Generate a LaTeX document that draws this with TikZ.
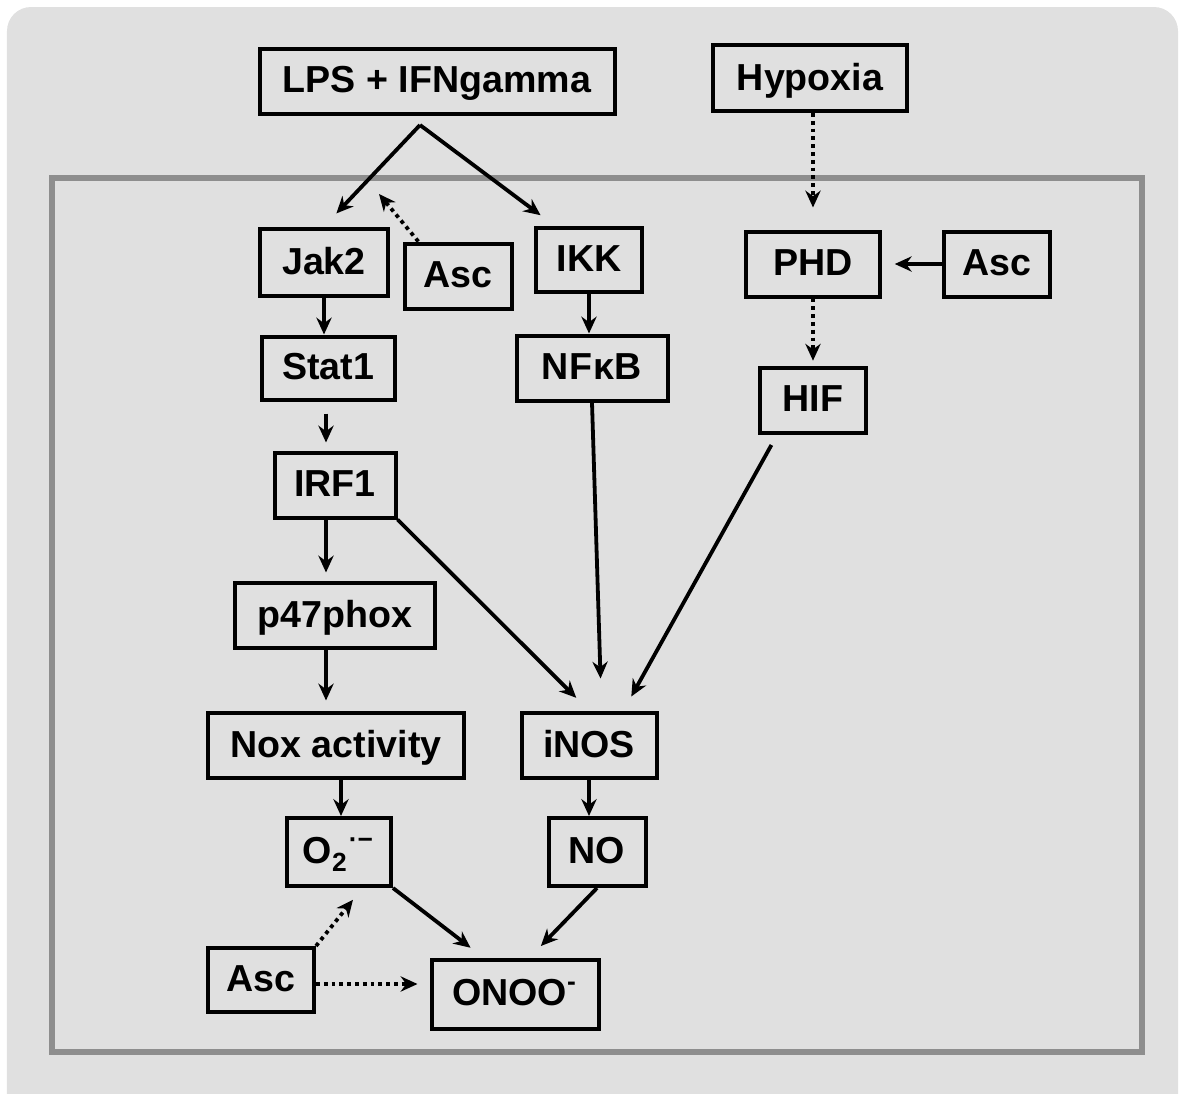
\documentclass[tikz,border=0pt]{standalone}
\usepackage{fontspec}
\setmainfont{Liberation Sans}
\usetikzlibrary{positioning,calc,arrows.meta}
\definecolor{bggray}{HTML}{E0E0E0}
\definecolor{cellgray}{HTML}{8E8E8E}
\tikzset{
	%Style of nodes
	box/.style = {rectangle, draw=black, line width=1pt,
                           minimum height=16.25pt, inner sep=0pt,
                           text depth=0.6pt,
                           font=\fontsize{9.4}{11}\selectfont\bfseries,
                           text centered},
	pil/.style = {-{Stealth[length=4.2pt,width=3.8pt]}, line width=0.95pt},
	punt/.style = {pil, densely dotted}
}

\begin{document}
\begin{tikzpicture}[x=0.25pt, y=-0.25pt]
		\useasboundingbox (0,0) rectangle (1181,1094);
		\fill[bggray, rounded corners=6pt] (7,7) rectangle (1178,1120);
		\draw[cellgray, line width=1.5pt] (52,178) rectangle (1142,1052);

		\node (lps) [box, minimum width=88.75pt] at (437,81)  {LPS + IFNgamma};
		\node (hyp) [box, minimum width=48.5pt, minimum height=16.5pt] at (810,78) {Hypoxia};
		\node (jak) [box, minimum width=32pt, minimum height=16.75pt] at (324,262) {Jak2};
		\node (asa) [box, minimum width=26.75pt] at (458,276) {Asc};
		\node (ikk) [box, minimum width=26.5pt, minimum height=16pt] at (589,260) {IKK};
		\node (phd) [box, minimum width=33.5pt] at (813,264) {PHD};
		\node (asb) [box, minimum width=26.5pt] at (997,264) {Asc};
		\node (sta) [box, minimum width=33.25pt, minimum height=15.75pt] at (328,368) {Stat1};
		\node (nfk) [box, minimum width=37.75pt] at (592,368) {NF\kern0.5pt κB};
		\node (hif) [box, minimum width=26.5pt] at (813,400) {HIF};
		\node (irf) [box, minimum width=30.25pt] at (335,485) {IRF1};
		\node (p47) [box, minimum width=50pt] at (335,615) {p47phox};
		\node (nox) [box, minimum width=64pt] at (336,745) {Nox activity};
		\node (ino) [box, minimum width=33.75pt] at (589,745) {iNOS};
		\node (sup) [box, minimum width=26pt, minimum height=17pt] at (339,852) {O\textsubscript{\raisebox{-0.8pt}{2}}\textsuperscript{·−}};
		\node (nom) [box, minimum width=24.25pt, minimum height=17pt] at (597,852) {NO};
		\node (asc) [box, minimum width=26.5pt, minimum height=16pt] at (261,980) {Asc};
		\node (onu) [box, minimum width=41.75pt, minimum height=17.25pt] at (515,994) {ONOO\textsuperscript{-}};

		\coordinate (split) at (420,125);
		\coordinate (hit) at (379,194);
		\coordinate (col) at (326,0);

		\draw[pil, shorten >=4.5pt] (split) -- (jak.north);
		\draw[pil, shorten >=4.5pt] (split) -- (ikk.135);
		\draw[punt] (asa.139) -- (hit);
		\draw[punt, shorten >=5.5pt] (hyp.south -| phd.north) -- (phd.north);
		\draw[pil, shorten >=3.2pt] (asb.west) -- (phd.east);

		\draw[pil] (jak.south) -- (jak.south |- sta.north);
		\draw[pil] (ikk.south) -- (ikk.south |- nfk.north);
		\draw[punt, shorten >=1.2pt] (phd.south) -- (phd.south |- hif.north);
		\draw[pil, shorten <=3pt, shorten >=2pt] (sta.south -| col) -- (irf.north -| col);
		\draw[pil, shorten >=2pt] (irf.south -| col) -- (p47.north -| col);
		\draw[pil, shorten >=2.5pt] (p47.south -| col) -- (nox.north -| col);
		\draw[pil] ($(nox.south -| sup.north)+(2,0)$) -- ($(sup.north)+(2,0)$);
		\draw[pil] (ino.south) -- (ino.south |- nom.north);

		\draw[pil, shorten >=4.5pt] (irf.south east) -- (ino.north);
		\draw[pil, shorten >=8pt] (nfk.south) -- (ino.70);
		\draw[pil, shorten <=3pt, shorten >=4pt] (hif.224) -- (ino.45);

		\draw[pil, shorten >=4pt] (sup.south east) -- (onu.131);
		\draw[pil, shorten >=4pt] (nom.south) -- (onu.68);
		\draw[punt, shorten >=3.75pt] (asc.north east) -- (sup.303);
		\draw[punt, shorten >=3pt] ($(asc.east)+(0,4)$) -- ($(asc.east -| onu.west)+(0,4)$);
	\end{tikzpicture}
\end{document}
